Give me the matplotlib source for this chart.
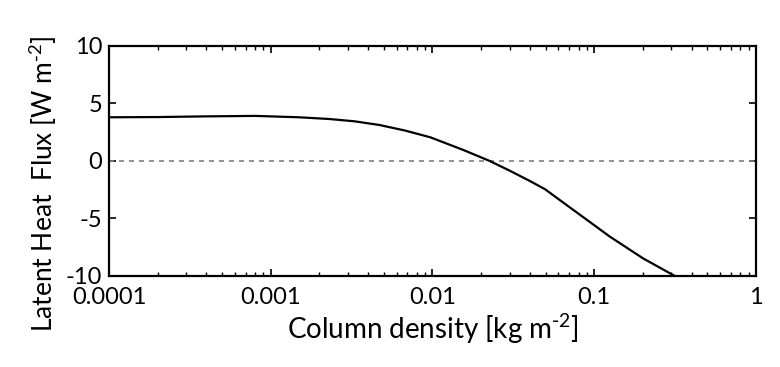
import numpy as np
import matplotlib
matplotlib.use("Agg")
import matplotlib.pyplot as plt

# column density [kg m-2] and latent heat flux [W m-2]
col_density = [1e-4, 2e-4, 4e-4, 8e-4, 1.5e-3, 2.3e-3, 3.3e-3, 4.7e-3, 6.8e-3,
               9.7e-3, 1.55e-2, 2.26e-2, 3.0e-2, 4.0e-2, 4.97e-2, 6.75e-2,
               0.125, 0.2, 0.315]
latent_flux = [3.8, 3.82, 3.88, 3.92, 3.8, 3.65, 3.45, 3.13, 2.64,
               2.06, 0.96, 0.0, -0.84, -1.74, -2.46, -3.83,
               -6.58, -8.46, -10.0]

xticks = [1e-4, 1e-3, 1e-2, 1e-1, 1]
xticklabels = ["0.0001", "0.001", "0.01", "0.1", "1"]
yticks = [-10, -5, 0, 5, 10]
yticklabels = ["-10", "-5", "0", "5", "10"]

plt.rcParams["font.family"] = ["Lato", "DejaVu Sans"]
plt.rcParams["mathtext.default"] = "regular"

fig = plt.figure(figsize=(7.8, 3.67), dpi=100)
ax = fig.add_axes([0.1397, 0.248, 0.8295, 0.6267])

ax.axhline(0, color="gray", linestyle=(0, (3, 3)), linewidth=1.2)
ax.plot(col_density, latent_flux, color="black", linewidth=1.6)

ax.set_xscale("log")
ax.set_xlim(1e-4, 1)
ax.set_ylim(-10, 10)
ax.set_xticks(xticks)
ax.set_xticklabels(xticklabels)
ax.set_yticks(yticks)
ax.set_yticklabels(yticklabels)

ax.tick_params(which="both", direction="in", top=True, right=True, labelsize=17)
ax.tick_params(which="major", length=5, width=1.2)
ax.tick_params(which="minor", length=3, width=1.0)
ax.tick_params(axis="x", pad=8)
ax.tick_params(axis="y", pad=5)
for s in ax.spines.values():
    s.set_linewidth(1.6)

ax.set_xlabel("Column density [kg m$^{\\text{-}2}$]", fontsize=20, labelpad=3)
ax.set_ylabel("Latent Heat  Flux [W m$^{\\text{-}2}$]", fontsize=19)
ax.yaxis.set_label_coords(-0.077, 0.40)

plt.savefig("out.png", dpi=100)
